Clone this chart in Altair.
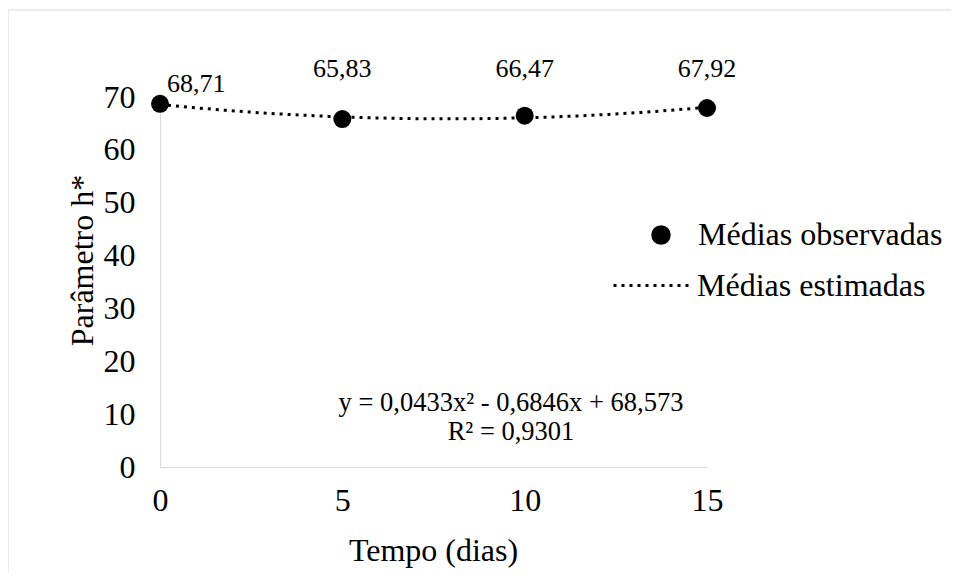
import altair as alt
import pandas as pd

# --- data ---
dias = [0, 5, 10, 15]
valores = [68.71, 65.83, 66.47, 67.92]
rotulos = ["68,71", "65,83", "66,47", "67,92"]
serie_obs = "Médias observadas"
serie_est = "Médias estimadas"
equacao = "y = 0,0433x² - 0,6846x + 68,573"
r2 = "R² = 0,9301"
x_ticks = [0, 5, 10, 15]
y_ticks = [0, 10, 20, 30, 40, 50, 60, 70]

df = pd.DataFrame({"dias": dias, "valor": valores, "rotulo": rotulos})
df["serie"] = serie_obs
one = pd.DataFrame({"k": [0]})

FONT = "Liberation Serif"
FS = 32
W, H = 547, 370
PAD = {"left": 152, "top": 89, "right": 244, "bottom": 106}

xs = alt.Scale(domain=[0, 15], nice=False, zero=True)
ys = alt.Scale(domain=[0, 70], nice=False, zero=True)

X = alt.X("dias:Q", scale=xs, axis=alt.Axis(
    values=x_ticks, title="Tempo (dias)", labelPadding=18, labelFlush=False,
    titleX=273, titleY=83, titleBaseline="middle", titleAlign="center"))
Y = alt.Y("valor:Q", scale=ys, axis=alt.Axis(
    values=y_ticks, title="Parâmetro h*", labelPadding=25, labelFlush=False,
    titleX=-78, titleY=163, titleBaseline="middle", titleAlign="center",
    titleAngle=-90))

base = alt.Chart(df)
deco = alt.Chart(one)

# outer frame (light grey border of the original figure box)
frame_v = deco.mark_rule(color="#d9d9d9", strokeWidth=1).encode(
    x=alt.value(-152), y=alt.value(-87), y2=alt.value(H + PAD["bottom"]))
frame_h = deco.mark_rule(color="#d9d9d9", strokeWidth=1).encode(
    x=alt.value(-152), x2=alt.value(W + PAD["right"]), y=alt.value(-87))

linha = base.transform_regression(
    "dias", "valor", method="poly", order=2, extent=[0, 15]
).transform_calculate(serie=f"'{serie_est}'").mark_line(
    color="black", strokeWidth=3, strokeCap="butt"
).encode(
    x=X, y=Y,
    strokeDash=alt.StrokeDash("serie:N", scale=alt.Scale(domain=[serie_est], range=[[3, 5]]),
                              legend=alt.Legend(title=None, orient="none", legendX=452, legendY=148,
                                                symbolType="stroke", symbolSize=6084,
                                                symbolStrokeWidth=3, symbolStrokeColor="black",
                                                labelOffset=4, labelLimit=0)),
)

pontos = base.mark_point(filled=True, size=324, opacity=1).encode(
    x=X, y=Y,
    color=alt.Color("serie:N", scale=alt.Scale(domain=[serie_obs], range=["black"]),
                    legend=alt.Legend(title=None, orient="none", legendX=485, legendY=122,
                                      symbolType="circle", symbolSize=324,
                                      symbolFillColor="black", symbolStrokeColor="black",
                                      labelOffset=21, labelLimit=0)),
)

rot0 = base.transform_filter("datum.dias == 0").mark_text(
    font=FONT, fontSize=26, color="black", align="left", baseline="middle", dx=7, dy=-20
).encode(x=X, y=Y, text="rotulo:N")

rot_outros = base.transform_filter("datum.dias > 0").mark_text(
    font=FONT, fontSize=26, color="black", align="center", baseline="middle"
).encode(x=X, y=alt.value(-28), text="rotulo:N")

eq1 = deco.mark_text(font=FONT, fontSize=26.5, color="black", align="center", baseline="middle").encode(
    x=alt.value(351), y=alt.value(306), text=alt.value(equacao))
eq2 = deco.mark_text(font=FONT, fontSize=26.5, color="black", align="center", baseline="middle").encode(
    x=alt.value(351), y=alt.value(335), text=alt.value(r2))

chart = alt.layer(frame_v, frame_h, linha, pontos, rot0, rot_outros, eq1, eq2).properties(
    width=W, height=H, padding=PAD, autosize=alt.AutoSizeParams(type="none"),
    background="white"
).configure_view(stroke=None).configure_axis(
    grid=False, ticks=False, tickSize=0, domainColor="#d9d9d9", domainWidth=1,
    labelFont=FONT, labelFontSize=FS, labelColor="black",
    titleFont=FONT, titleFontSize=FS, titleColor="black", titleFontWeight="normal"
).configure_legend(
    labelFont=FONT, labelFontSize=FS, labelColor="black", padding=0
)

chart.save("out.html", embed_options={"renderer": "svg", "actions": False})
